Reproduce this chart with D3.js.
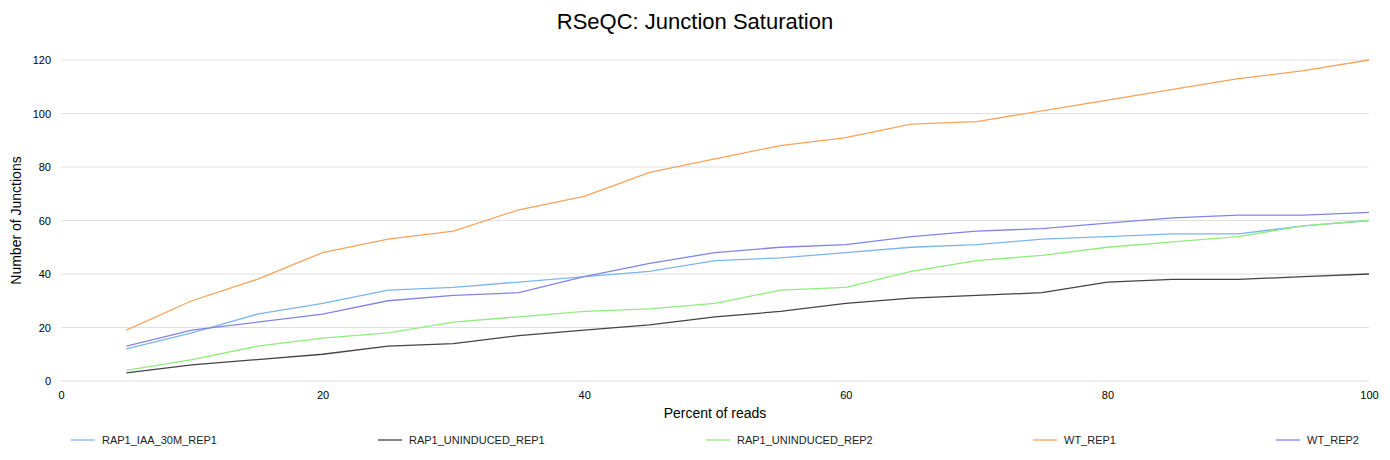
<!DOCTYPE html>
<html>
<head>
<meta charset="utf-8">
<script src="https://cdn.jsdelivr.net/npm/d3@7"></script>
<style>
  body { margin: 0; font-family: "Liberation Sans", Arial, sans-serif; background: #fff; }
</style>
</head>
<body>
<div id="chart"></div>
<script>
var percents = [5, 10, 15, 20, 25, 30, 35, 40, 45, 50, 55, 60, 65, 70, 75, 80, 85, 90, 95, 100];
var seriesNames = ["RAP1_IAA_30M_REP1", "RAP1_UNINDUCED_REP1", "RAP1_UNINDUCED_REP2", "WT_REP1", "WT_REP2"];
var iaaRep1 = [12, 18, 25, 29, 34, 35, 37, 39, 41, 45, 46, 48, 50, 51, 53, 54, 55, 55, 58, 60];
var unindRep1 = [3, 6, 8, 10, 13, 14, 17, 19, 21, 24, 26, 29, 31, 32, 33, 37, 38, 38, 39, 40];
var unindRep2 = [4, 8, 13, 16, 18, 22, 24, 26, 27, 29, 34, 35, 41, 45, 47, 50, 52, 54, 58, 60];
var wtRep1 = [19, 30, 38, 48, 53, 56, 64, 69, 78, 83, 88, 91, 96, 97, 101, 105, 109, 113, 116, 120];
var wtRep2 = [13, 19, 22, 25, 30, 32, 33, 39, 44, 48, 50, 51, 54, 56, 57, 59, 61, 62, 62, 63];
var xTicks = [0, 20, 40, 60, 80, 100];
var yTicks = [0, 20, 40, 60, 80, 100, 120];

var colors = ["#7cb5ec", "#434348", "#90ed7d", "#f7a35c", "#8085e9"];
var allSeries = [iaaRep1, unindRep1, unindRep2, wtRep1, wtRep2];

var svgWidth = 1390, svgHeight = 460;
var margin = { top: 60, right: 21, bottom: 79, left: 61 };
var width = svgWidth - margin.left - margin.right;
var height = svgHeight - margin.top - margin.bottom;

var svg = d3.select("#chart").append("svg")
  .attr("width", svgWidth)
  .attr("height", svgHeight);

var chartGroup = svg.append("g")
  .attr("transform", `translate(${margin.left}, ${margin.top})`);

var x = d3.scaleLinear().domain([0, 100]).range([0, width]);
var y = d3.scaleLinear().domain([0, 120]).range([height, 0]);

// grid lines
chartGroup.append("g")
  .selectAll("line")
  .data(yTicks)
  .enter()
  .append("line")
  .attr("x1", 0).attr("x2", width)
  .attr("y1", d => y(d)).attr("y2", d => y(d))
  .attr("stroke", "#e0e0e0");

var leftAxis = d3.axisLeft(y).tickValues(yTicks).tickSize(0).tickPadding(10);
chartGroup.append("g").call(leftAxis)
  .call(g => g.select(".domain").remove())
  .selectAll("text").attr("font-size", "11px").attr("fill", "#000");

var bottomAxis = d3.axisBottom(x).tickValues(xTicks).tickSize(0).tickPadding(10);
chartGroup.append("g")
  .attr("transform", `translate(0, ${height})`)
  .call(bottomAxis)
  .call(g => g.select(".domain").remove())
  .selectAll("text").attr("font-size", "11px").attr("fill", "#000");

var line = d3.line()
  .x((d, i) => x(percents[i]))
  .y(d => y(d));

allSeries.forEach(function (vals, i) {
  chartGroup.append("path")
    .datum(vals)
    .attr("d", line)
    .attr("fill", "none")
    .attr("stroke", colors[i])
    .attr("stroke-width", 1.3);
});

svg.append("text")
  .attr("x", svgWidth / 2).attr("y", 29)
  .attr("text-anchor", "middle")
  .attr("font-size", "22px")
  .attr("fill", "#000")
  .text("RSeQC: Junction Saturation");

svg.append("text")
  .attr("transform", "rotate(-90)")
  .attr("x", -(margin.top + height / 2)).attr("y", 21)
  .attr("text-anchor", "middle")
  .attr("font-size", "14px")
  .attr("fill", "#000")
  .text("Number of Junctions");

svg.append("text")
  .attr("x", margin.left + width / 2).attr("y", 418)
  .attr("text-anchor", "middle")
  .attr("font-size", "14px")
  .attr("fill", "#000")
  .text("Percent of reads");

var legendX = [71, 378, 706, 1033, 1276];
var legend = svg.append("g").selectAll("g")
  .data(seriesNames)
  .enter()
  .append("g")
  .attr("transform", (d, i) => `translate(${legendX[i]}, 440)`);
legend.append("line")
  .attr("x1", 0).attr("x2", 24)
  .attr("stroke", (d, i) => colors[i])
  .attr("stroke-width", 1.3);
legend.append("text")
  .attr("x", 31).attr("y", 4)
  .attr("font-size", "11px")
  .attr("fill", "#222")
  .text(d => d);
</script>
</body>
</html>
